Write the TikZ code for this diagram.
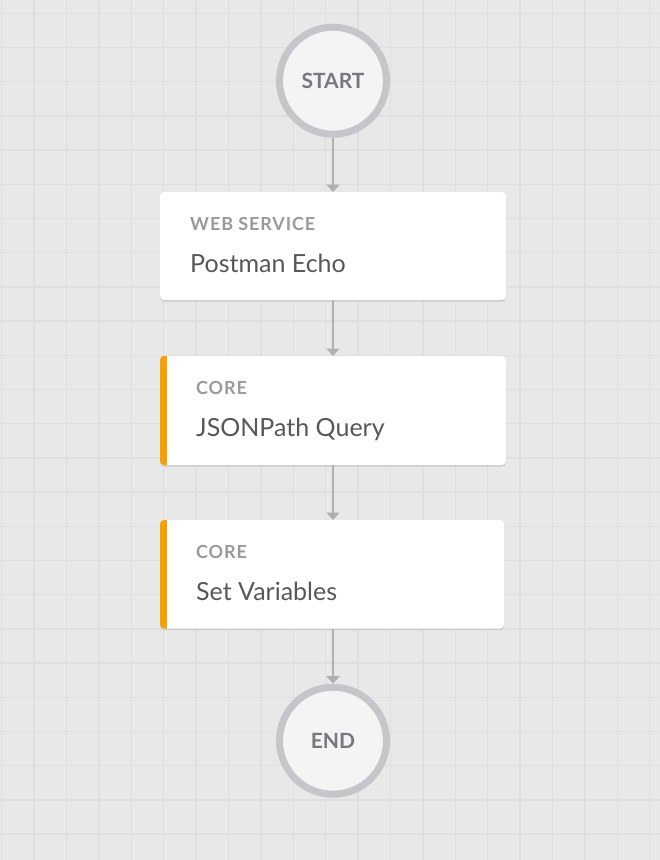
\documentclass[tikz,border=0pt]{standalone}
\usepackage{fontspec}
\setmainfont{Lato}
\usetikzlibrary{arrows.meta,calc,shadows}
\definecolor{bgc}{HTML}{E8E8E8}
\definecolor{gridc}{HTML}{DFDFDF}
\definecolor{ringc}{HTML}{C6C6CA}
\definecolor{circfill}{HTML}{F4F4F4}
\definecolor{circtext}{HTML}{77777D}
\definecolor{arrowc}{HTML}{B0B0B0}
\definecolor{labelc}{HTML}{9A9A9E}
\definecolor{maintext}{HTML}{58585C}
\definecolor{barorange}{HTML}{F7A000}
\definecolor{shadowc}{HTML}{CACACA}
\tikzset{
  endpoint/.style={circle, draw=ringc, line width=7, fill=circfill, minimum size=107,
    inner sep=0, text=circtext, font=\bfseries\fontsize{21}{24}\selectfont},
  card/.style={rectangle, rounded corners=4, fill=white, inner sep=0, outer sep=0,
    drop shadow={shadow xshift=0pt, shadow yshift=-1.5pt, fill=shadowc, opacity=1}},
  lbl/.style={anchor=base west, inner sep=0, text=labelc,
    font=\bfseries\fontsize{18}{20}\selectfont\addfontfeature{LetterSpace=5}},
  maintxt/.style={anchor=base west, inner sep=0, text=maintext, font=\fontsize{25}{30}\selectfont},
  conn/.style={draw=arrowc, line width=2, -{Triangle[width=13pt,length=7.5pt]}},
  gridline/.style={draw=gridc, line width=1.3}
}
\begin{document}
\begin{tikzpicture}[x=1pt,y=-1pt]
\fill[bgc] (0,0) rectangle (660,860);
\useasboundingbox (0,0) rectangle (660,860);
\foreach \i in {0,...,20} \draw[gridline] ({1.7+32.4*\i},0) -- ({1.7+32.4*\i},860);
\foreach \j in {0,...,24} \draw[gridline] (0,{13.3+34.2*\j}) -- (660,{13.3+34.2*\j});

\node[endpoint] (start) at (333,80.7) {START};
\node[endpoint] (end) at (333,740.7) {END};

\node[card, minimum width=346, minimum height=108] (b1) at (333,246) {};
\node[card, minimum width=346, minimum height=109] (b2) at (333,410.5) {};
\node[card, minimum width=344, minimum height=108.5] (b3) at (332,574.25) {};

\begin{scope}
\clip[rounded corners=4] (b2.north west) rectangle (b2.south east);
\fill[barorange] (b2.north west) rectangle ($(b2.south west)+(7.3,0)$);
\end{scope}
\begin{scope}
\clip[rounded corners=4] (b3.north west) rectangle (b3.south east);
\fill[barorange] (b3.north west) rectangle ($(b3.south west)+(7.3,0)$);
\end{scope}

\node[lbl] (b1l) at ($(b1.north west)+(30,38)$) {WEB SERVICE};
\node[maintxt] (b1m) at ($(b1.north west)+(30,80.7)$) {Postman Echo};
\node[lbl] (b2l) at ($(b2.north west)+(36,38)$) {CORE};
\node[maintxt] (b2m) at ($(b2.north west)+(36,80.7)$) {JSONPath Query};
\node[lbl] (b3l) at ($(b3.north west)+(36,38.3)$) {CORE};
\node[maintxt] (b3m) at ($(b3.north west)+(36,80)$) {Set Variables};

\draw[conn] (start) -- (b1);
\draw[conn] (b1) -- (b2);
\draw[conn] (b2.south) -- (b2.south |- b3.north);
\draw[conn] (b3.south -| end) -- (end);
\end{tikzpicture}
\end{document}
